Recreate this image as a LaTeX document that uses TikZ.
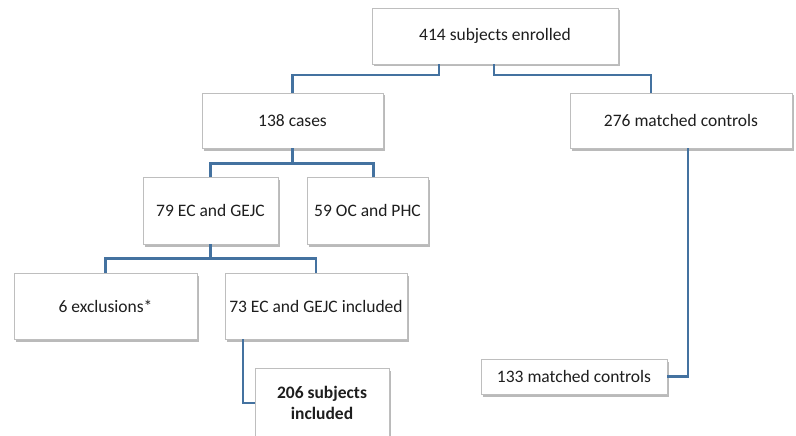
\documentclass[tikz,border=0pt]{standalone}
\usepackage{fontspec}
\setmainfont{Carlito}
\usetikzlibrary{shadows}
\begin{document}
\begin{tikzpicture}[x=1pt,y=-1pt,
  box/.style={draw={rgb,255:red,190;green,190;blue,190}, fill=white, line width=0.8pt,
    inner sep=2pt, align=center, text={rgb,255:red,30;green,30;blue,30},
    font=\fontsize{17.5}{20}\selectfont,
    drop shadow={shadow xshift=2pt, shadow yshift=-2.5pt, fill=black!45, opacity=0.6}},
  link/.style={draw={rgb,255:red,68;green,114;blue,160}, line width=2.2pt}]
\useasboundingbox (0,0) rectangle (796,436);

% Boxes
\node [box, minimum width=246pt, minimum height=56pt] (enrol) at (495,36) {414 subjects enrolled};
\node [box, minimum width=181pt, minimum height=55pt] (cases) at (292.5,120.5) {138 cases};
\node [box, minimum width=222pt, minimum height=55pt] (controls) at (681,120.5) {276 matched controls};
\node [box, minimum width=135pt, minimum height=67pt] (ecgejc) at (210.5,210.5) {79 EC and GEJC};
\node [box, minimum width=121pt, minimum height=67pt] (ocphc) at (367.5,210.5) {59 OC and PHC};
\node [box, minimum width=183pt, minimum height=66pt] (excl) at (105.5,306) {6 exclusions*};
\node [box, minimum width=182pt, minimum height=66pt] (incl) at (316,306) {73 EC and GEJC included};
\node [box, minimum width=134pt, minimum height=70pt, font=\fontsize{17.5}{20.5}\selectfont\bfseries] (subj) at (322,403) {206 subjects\\included};
\node [box, minimum width=186pt, minimum height=35pt] (matched) at (574,376.5) {133 matched controls};

% Connectors
\draw [link] ([xshift=-56pt]enrol.south) -- ++(0,11) -| (cases.north);
\draw [link] ([xshift=-1pt]enrol.south) -- ++(0,11) -| ([xshift=-30pt]controls.north);
\draw [link] (cases.south) -- ++(0,15) -| (ecgejc.north);
\draw [link] (cases.south) -- ++(0,15) -| ([xshift=6pt]ocphc.north);
\draw [link] (ecgejc.south) -- ++(0,14) -| (excl.north);
\draw [link] (ecgejc.south) -- ++(0,14) -| (incl.north);
\draw [link] ([xshift=-73pt]incl.south) |- (subj.west |- 0,403);
\draw [link] ([xshift=7pt]controls.south) |- (matched.east);

\end{tikzpicture}
\end{document}
